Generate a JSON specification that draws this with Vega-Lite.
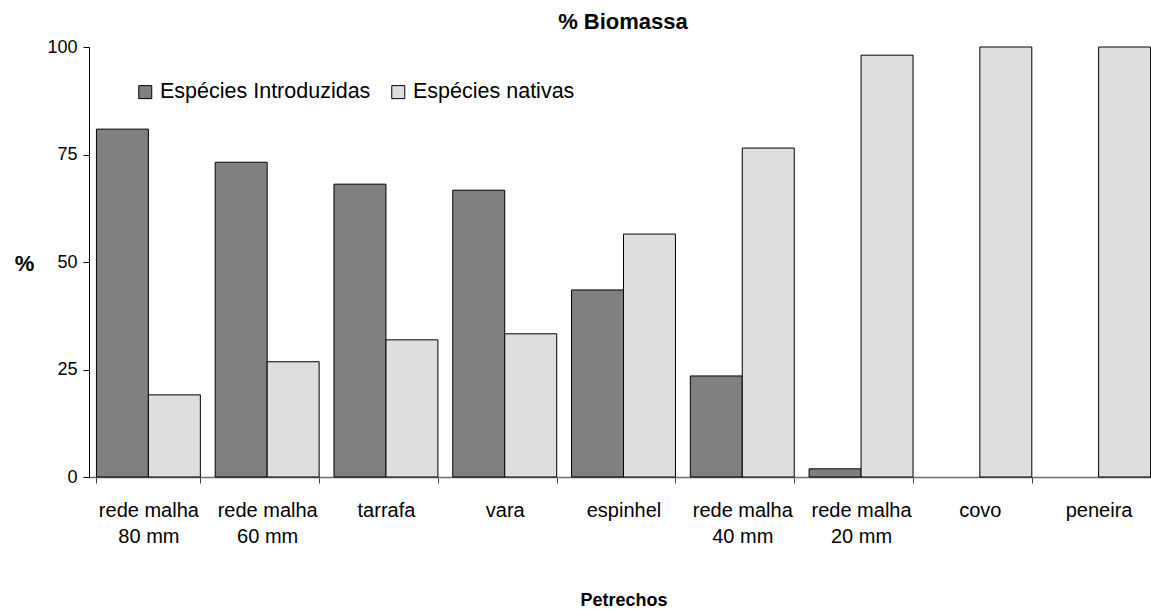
{
  "$schema": "https://vega.github.io/schema/vega-lite/v6.json",
  "width": 1062,
  "height": 430,
  "autosize": {"type": "none"},
  "padding": {"left": 89, "top": 47, "right": 0, "bottom": 132},
  "background": "white",
  "title": {"text": "% Biomassa", "font": "Liberation Sans", "fontSize": 22, "fontWeight": "bold", "color": "black", "anchor": "middle", "frame": "group", "baseline": "alphabetic", "offset": 13, "dx": 3, "dy": 26},
  "data": {"values": [
    {"g": "rede malha|80 mm", "s": "Espécies Introduzidas", "v": 80.9},
    {"g": "rede malha|80 mm", "s": "Espécies nativas", "v": 19.1},
    {"g": "rede malha|60 mm", "s": "Espécies Introduzidas", "v": 73.2},
    {"g": "rede malha|60 mm", "s": "Espécies nativas", "v": 26.8},
    {"g": "tarrafa", "s": "Espécies Introduzidas", "v": 68.1},
    {"g": "tarrafa", "s": "Espécies nativas", "v": 31.9},
    {"g": "vara", "s": "Espécies Introduzidas", "v": 66.7},
    {"g": "vara", "s": "Espécies nativas", "v": 33.3},
    {"g": "espinhel", "s": "Espécies Introduzidas", "v": 43.5},
    {"g": "espinhel", "s": "Espécies nativas", "v": 56.5},
    {"g": "rede malha|40 mm", "s": "Espécies Introduzidas", "v": 23.5},
    {"g": "rede malha|40 mm", "s": "Espécies nativas", "v": 76.5},
    {"g": "rede malha|20 mm", "s": "Espécies Introduzidas", "v": 1.9},
    {"g": "rede malha|20 mm", "s": "Espécies nativas", "v": 98.1},
    {"g": "covo", "s": "Espécies Introduzidas", "v": 0},
    {"g": "covo", "s": "Espécies nativas", "v": 100},
    {"g": "peneira", "s": "Espécies Introduzidas", "v": 0},
    {"g": "peneira", "s": "Espécies nativas", "v": 100}
  ]},
  "transform": [{"filter": "datum.v > 0"}],
  "mark": {"type": "bar", "stroke": "black", "strokeWidth": 1},
  "encoding": {
    "x": {
      "field": "g", "type": "nominal", "sort": null,
      "scale": {"domain": ["rede malha|80 mm", "rede malha|60 mm", "tarrafa", "vara", "espinhel", "rede malha|40 mm", "rede malha|20 mm", "covo", "peneira"], "range": [0, 1069], "paddingInner": 0.125, "paddingOuter": 0.0625},
      "axis": {
        "title": "Petrechos", "titleFont": "Liberation Sans", "titleFontSize": 18, "titleFontWeight": "bold", "titleColor": "black",
        "titleY": 128, "titleBaseline": "alphabetic",
        "labelExpr": "split(datum.label, '|')", "labelAngle": 0, "labelFont": "Liberation Sans", "labelFontSize": 20,
        "labelColor": "black", "labelLineHeight": 26, "labelBaseline": "top", "labelPadding": 17,
        "labelOverlap": false, "labelBound": false, "labelFlush": false,
        "tickBand": "extent", "tickSize": 6, "tickColor": "#444444", "domainColor": "#6e6e6e", "domainWidth": 1.5
      }
    },
    "xOffset": {"field": "s", "type": "nominal", "scale": {"domain": ["Espécies Introduzidas", "Espécies nativas"], "paddingInner": 0, "paddingOuter": 0}},
    "y": {
      "field": "v", "type": "quantitative",
      "scale": {"domain": [0, 100], "nice": false},
      "axis": {
        "values": [0, 25, 50, 75, 100], "grid": false, "title": "%",
        "titleFont": "Liberation Sans", "titleFontSize": 22, "titleFontWeight": "bold", "titleColor": "black",
        "titleAngle": 0, "titleX": -65, "titleY": 223, "titleAlign": "center", "titleBaseline": "alphabetic",
        "labelFont": "Liberation Sans", "labelFontSize": 18, "labelColor": "black", "labelPadding": 6,
        "tickSize": 6, "tickColor": "black", "domainColor": "black"
      }
    },
    "color": {
      "field": "s", "type": "nominal",
      "scale": {"domain": ["Espécies Introduzidas", "Espécies nativas"], "range": ["#808080", "#dedede"]},
      "legend": {
        "title": null, "orient": "none", "direction": "horizontal", "legendX": 45.5, "legendY": 34,
        "padding": 0, "symbolType": "square", "symbolSize": 169, "symbolStrokeColor": "black", "symbolStrokeWidth": 1,
        "symbolOpacity": 1, "labelFont": "Liberation Sans", "labelFontSize": 21.5, "labelColor": "black",
        "labelOffset": 4, "columnPadding": 17, "labelLimit": 400
      }
    }
  },
  "config": {"view": {"stroke": null}}
}
